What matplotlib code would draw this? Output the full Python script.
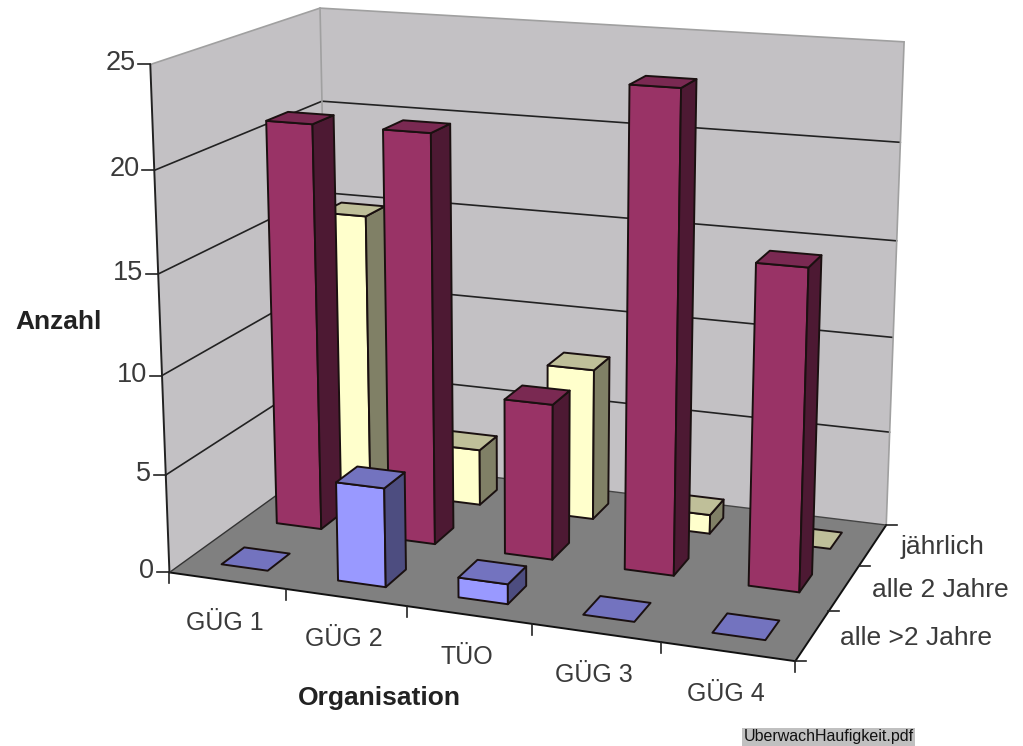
#3d column chart, excel style. matplotlib 3d view can't hit this camera so project by hand
import matplotlib
matplotlib.use('Agg')
import matplotlib.pyplot as plt
from matplotlib.patches import Polygon
import numpy as np

plt.rcParams['font.family'] = ['Liberation Sans', 'DejaVu Sans']

#data
categories = ['GÜG 1', 'GÜG 2', 'TÜO', 'GÜG 3', 'GÜG 4']
series_names = ['alle >2 Jahre', 'alle 2 Jahre', 'jährlich']
over_2_years = [0, 5, 1, 0, 0]
every_2_years = [21, 21, 8, 24, 16]
yearly = [15, 3, 8, 1, 0]
value_ticks = [0, 5, 10, 15, 20, 25]

#series colours: front, side, top
colours = [('#9999FF', '#4D4D80', '#7373BF'),
	('#993366', '#4D1933', '#7A2952'),
	('#FFFFCC', '#808066', '#BFBF99')]

#camera calibration: (category pos, depth pos, value) -> pixel
calib = [((0,0,0),(170,573)), ((0,0,5),(166,476)), ((0,0,10),(162,373)), ((0,0,15),(158,274)), ((0,0,20),(155,170)), ((0,0,25),(150,65)),
	((0,3,25),(320,8)), ((0,3,20),(321,102)), ((0,3,0),(330,456)),
	((5,3,0),(886,526)), ((5,3,10),(893,337)), ((5,3,15),(897,241)), ((5,3,20),(900,141)), ((5,3,25),(905,43)),
	((5,0,0),(795,660)), ((1,0,0),(285,590)), ((2,0,0),(407,607))]

def fit_camera(points):
	rows = []
	for (x, y, z), (u, v) in points:
		u, v = u/1000.0, v/1000.0
		p = [x, y, z/5.0, 1]
		rows.append(p+[0,0,0,0]+[-u*c for c in p])
		rows.append([0,0,0,0]+p+[-v*c for c in p])
	_, _, vt = np.linalg.svd(np.array(rows, dtype=float))
	return vt[-1].reshape(3, 4)

cam = fit_camera(calib)

def project(x, y, z):
	h = cam.dot([x, y, z/5.0, 1])
	return h[0]/h[2]*1000.0, h[1]/h[2]*1000.0

fig = plt.figure(figsize=(10.23, 7.46), dpi=100)
ax = fig.add_axes([0, 0, 1, 1])
ax.set_xlim(0, 1023)
ax.set_ylim(746, 0)
ax.axis('off')

def face(corners, fc, ec='#1a1010', lw=1.4, z=1):
	ax.add_patch(Polygon([project(*c) for c in corners], closed=True, facecolor=fc, edgecolor=ec, linewidth=lw, joinstyle='round', zorder=z))

#walls and floor
zmax = value_ticks[-1]
face([(0,0,0),(0,3,0),(0,3,zmax),(0,0,zmax)], '#C3C1C4', ec='none')
face([(0,3,0),(5,3,0),(5,3,zmax),(0,3,zmax)], '#C3C1C4', ec='none')
face([(0,0,0),(5,0,0),(5,3,0),(0,3,0)], '#808080', ec='none')

def line3d(a, b, color='#222222', lw=1.2, z=2):
	pa, pb = project(*a), project(*b)
	ax.plot([pa[0], pb[0]], [pa[1], pb[1]], color=color, linewidth=lw, zorder=z, solid_capstyle='round')

#gridlines on both walls
for v in value_ticks[1:-1]:
	line3d((0,0,v), (0,3,v))
	line3d((0,3,v), (5,3,v))
#wall outline is lighter
line3d((0,0,zmax), (0,3,zmax), color='#A0A0A0')
line3d((0,3,zmax), (5,3,zmax), color='#A0A0A0')
line3d((0,3,0), (0,3,zmax), color='#A0A0A0')
line3d((5,3,0), (5,3,zmax), color='#A0A0A0')
line3d((0,0,0), (5,0,0), color='#111111', lw=1.4)
line3d((5,0,0), (5,3,0), color='#111111', lw=1.4)
line3d((0,0,0), (0,0,zmax), color='#222222', lw=1.4)
line3d((0,0,0), (0,3,0), color='#333333', lw=1)
line3d((0,3,0), (5,3,0), color='#444444', lw=1)

#axis ticks and labels
for v in value_ticks:
	px, py = project(0, 0, v)
	ax.plot([px-12, px], [py, py], color='#222222', linewidth=1.2, zorder=2)
	ax.text(px-15, py-1, str(v), ha='right', va='center', fontsize=19.5, color='#3a3a3a')
for i in range(len(categories)+1):
	px, py = project(i, 0, 0)
	ax.plot([px, px], [py, py+11], color='#222222', linewidth=1.2, zorder=2)
for i in range(len(series_names)+1):
	px, py = project(5, i, 0)
	ax.plot([px, px+11], [py, py], color='#222222', linewidth=1.2, zorder=2)

for i, name in enumerate(categories):
	px, py = project(i+0.5, 0, 0)
	ax.text(px-2, py+42, name, ha='center', va='center', fontsize=18, color='#3a3a3a')
for i, name in enumerate(series_names):
	px, py = project(5, i+0.5, 0)
	ax.text(px+28, py+2, name, ha='left', va='center', fontsize=19, color='#3a3a3a')

ax.text(15, 322, 'Anzahl', ha='left', va='center', fontsize=19, fontweight='bold', color='#222222')
ax.text(379, 698, 'Organisation', ha='center', va='center', fontsize=19, fontweight='bold', color='#222222')
ax.text(828.5, 737, 'UberwachHaufigkeit.pdf', ha='center', va='center', fontsize=11.5, color='#111111',
	bbox=dict(boxstyle='square,pad=0.12', facecolor='#C0C0C0', edgecolor='none'))

#bars, back row first so the front rows paint over
all_series = [over_2_years, every_2_years, yearly]
half_x = 0.2
half_y = 0.2
for s in range(len(all_series)-1, -1, -1):
	front, side, top = colours[s]
	for c in range(len(categories)):
		val = all_series[s][c]
		x0, x1 = c+0.5-half_x, c+0.5+half_x
		y0, y1 = s+0.5-half_y, s+0.5+half_y
		if val > 0:
			face([(x0,y0,0),(x1,y0,0),(x1,y0,val),(x0,y0,val)], front, z=3+(2-s)+c*0.1)
			face([(x1,y0,0),(x1,y1,0),(x1,y1,val),(x1,y0,val)], side, z=3+(2-s)+c*0.1)
		face([(x0,y0,val),(x1,y0,val),(x1,y1,val),(x0,y1,val)], top, z=3+(2-s)+c*0.1)

fig.savefig('out.png', dpi=100)
